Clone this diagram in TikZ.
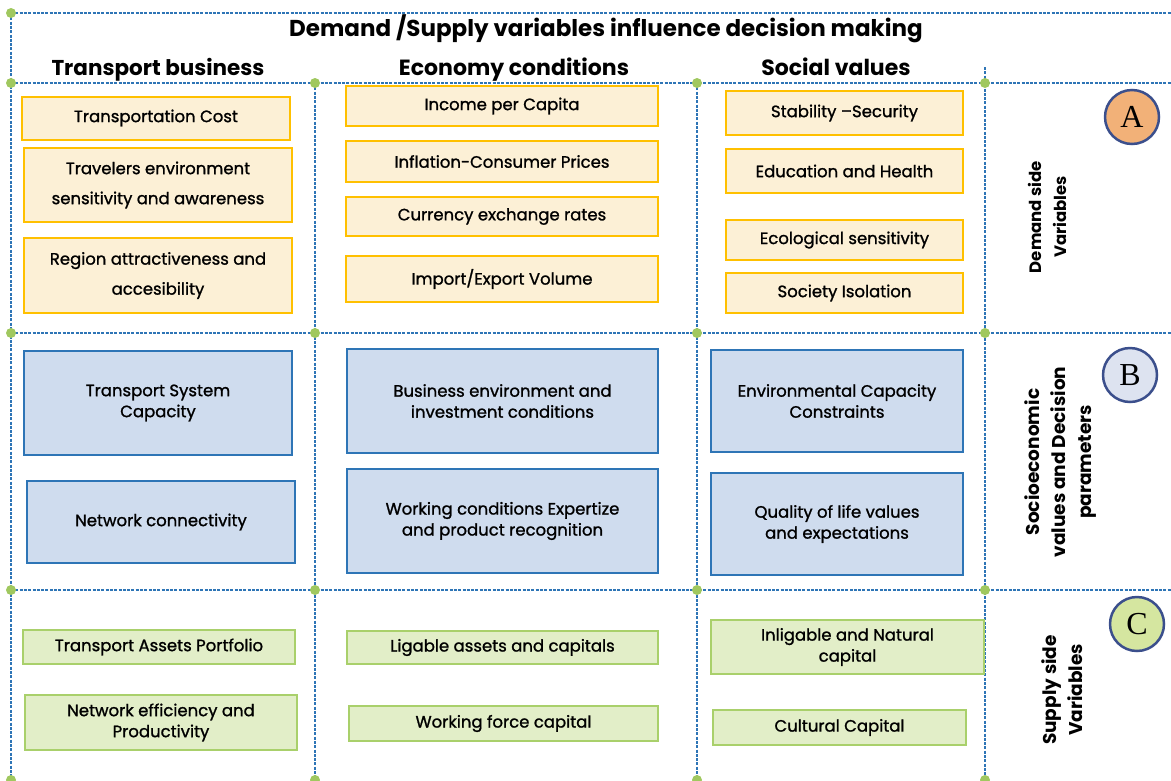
\documentclass[tikz,border=0pt]{standalone}
\usepackage{fontspec}
\setmainfont{Poppins}
\newfontfamily\boxfont{Poppins}[FakeBold=1.2]
\newfontfamily\badgefont{Liberation Serif}
\usetikzlibrary{positioning}
\definecolor{gridblue}{RGB}{46,117,182}
\definecolor{dotgreen}{RGB}{160,200,95}
\definecolor{yfill}{RGB}{252,240,214}
\definecolor{yline}{RGB}{255,192,0}
\definecolor{bfill}{RGB}{207,220,238}
\definecolor{bline}{RGB}{46,117,182}
\definecolor{gfill}{RGB}{226,238,200}
\definecolor{gline}{RGB}{169,208,107}
\definecolor{ringblue}{RGB}{59,79,140}
\definecolor{afill}{RGB}{242,177,120}
\definecolor{bcfill}{RGB}{221,227,240}
\definecolor{ccfill}{RGB}{213,230,160}
\tikzset{
cell/.style={
  draw,
  line width=2pt,
  inner sep=2pt,
  align=center,
  text=black
},
ybox/.style={cell, draw=yline, fill=yfill, font=\boxfont\fontsize{16.5}{30}\selectfont},
bbox/.style={cell, draw=bline, fill=bfill, font=\boxfont\fontsize{16.5}{21}\selectfont},
gbox/.style={cell, draw=gline, fill=gfill, line width=2.5pt, font=\boxfont\fontsize{16.5}{21}\selectfont},
gridline/.style={draw=gridblue, line width=2.5pt, dash pattern=on 3pt off 1.3pt},
gdot/.style={fill=dotgreen},
colhead/.style={anchor=base, font=\bfseries\fontsize{22}{24}\selectfont},
sidelabel/.style={rotate=90, align=center, font=\bfseries\fontsize{18.5}{26}\selectfont},
badge/.style={circle, draw=ringblue, line width=2.5pt, minimum size=54, inner sep=0pt,
  font=\badgefont\fontsize{32}{32}\selectfont}
}
\begin{document}
\begin{tikzpicture}[x=1pt, y=-1pt]
  \useasboundingbox (0,0) rectangle (1171,780);

  % grid corners
  \coordinate (tl) at (11,13);
  \coordinate (tr) at (1171,13);
  \coordinate (bl) at (11,780);
  \coordinate (hl1) at (11,83);
  \coordinate (hr1) at (1171,83);
  \coordinate (hl2) at (11,333);
  \coordinate (hr2) at (1171,333);
  \coordinate (hl3) at (11,590);
  \coordinate (hr3) at (1171,590);
  \coordinate (v1t) at (315,83);
  \coordinate (v1b) at (315,780);
  \coordinate (v2t) at (697,83);
  \coordinate (v2b) at (697,780);
  \coordinate (v3t) at (985,67);
  \coordinate (v3b) at (985,780);

  \draw[gridline] (tl) -- (tr);
  \draw[gridline] (tl) -- (bl);
  \draw[gridline] (hl1) -- (hr1);
  \draw[gridline] (hl2) -- (hr2);
  \draw[gridline] (hl3) -- (hr3);
  \draw[gridline] (v1t) -- (v1b);
  \draw[gridline] (v2t) -- (v2b);
  \draw[gridline] (v3t) -- (v3b);

  \fill[gdot] (tl) circle (5);
  \fill[gdot] (hl1) circle (5);
  \fill[gdot] (v1t) circle (5);
  \fill[gdot] (v2t) circle (5);
  \fill[gdot] (v3t |- hl1) circle (5);
  \fill[gdot] (hl2) circle (5);
  \fill[gdot] (v1t |- hl2) circle (5);
  \fill[gdot] (v2t |- hl2) circle (5);
  \fill[gdot] (v3t |- hl2) circle (5);
  \fill[gdot] (hl3) circle (5);
  \fill[gdot] (v1t |- hl3) circle (5);
  \fill[gdot] (v2t |- hl3) circle (5);
  \fill[gdot] (v3t |- hl3) circle (5);
  \fill[gdot] (bl) circle (5);
  \fill[gdot] (v1b) circle (5);
  \fill[gdot] (v2b) circle (5);
  \fill[gdot] (v3b) circle (5);

  % headings
  \node[colhead, font=\bfseries\fontsize{23}{24}\selectfont] (title) at (606,36) {Demand /Supply variables influence decision making};
  \node[colhead, font=\bfseries\fontsize{21.5}{24}\selectfont] (htrans) at (158,75) {Transport business};
  \node[colhead] (hecon) at (514,75) {Economy conditions};
  \node[colhead] (hsoc) at (836,75) {Social values};

  % demand side
  \node[ybox, minimum width=268, minimum height=43] (tcost) at (156,118) {Transportation Cost};
  \node[ybox, minimum width=268, minimum height=74] (travel) at (158,185) {Travelers environment\\sensitivity and awareness};
  \node[ybox, minimum width=268, minimum height=75] (region) at (158,275.5) {Region attractiveness and\\accesibility};
  \node[ybox, minimum width=312, minimum height=40] (income) at (502,106) {Income per Capita};
  \node[ybox, minimum width=312, minimum height=41] (inflat) at (502,161.5) {Inflation-Consumer Prices};
  \node[ybox, minimum width=312, minimum height=39] (currency) at (502,216.5) {Currency exchange rates};
  \node[ybox, minimum width=312, minimum height=46] (import) at (502,279) {Import/Export Volume};
  \node[ybox, minimum width=237, minimum height=44] (stabil) at (844.5,113) {Stability –Security};
  \node[ybox, minimum width=237, minimum height=44] (educ) at (844.5,171) {Education and Health};
  \node[ybox, minimum width=237, minimum height=40] (ecolog) at (844.5,240) {Ecological sensitivity};
  \node[ybox, minimum width=237, minimum height=40] (isol) at (844.5,293) {Society Isolation};

  % decision parameters
  \node[bbox, minimum width=268, minimum height=104] (tsyscap) at (158,403) {Transport System\\Capacity};
  \node[bbox, minimum width=268, minimum height=82] (netconn) at (161,522) {Network connectivity};
  \node[bbox, minimum width=311, minimum height=104] (busenv) at (502.5,401) {Business environment and\\investment conditions};
  \node[bbox, minimum width=311, minimum height=104] (workcond) at (502.5,521) {Working conditions Expertize\\and product recognition};
  \node[bbox, minimum width=252, minimum height=102] (envcap) at (837,401) {Environmental Capacity\\Constraints};
  \node[bbox, minimum width=252, minimum height=102] (quality) at (837,524) {Quality of life values\\and expectations};

  % supply side
  \node[gbox, minimum width=272, minimum height=34] (assets) at (159,647) {Transport Assets Portfolio};
  \node[gbox, minimum width=272, minimum height=55] (neteff) at (161,722.5) {Network efficiency and\\Productivity};
  \node[gbox, minimum width=311, minimum height=33] (ligable) at (502.5,647.5) {Ligable assets and capitals};
  \node[gbox, minimum width=309, minimum height=35] (wforce) at (503.5,723.5) {Working force capital};
  \node[gbox, minimum width=273, minimum height=54] (inligable) at (847.5,647) {Inligable and Natural\\capital};
  \node[gbox, minimum width=253, minimum height=35] (cultural) at (839.5,727.5) {Cultural Capital};

  % row labels
  \node[sidelabel, font=\bfseries\fontsize{16.5}{25}\selectfont] (demlab) at (1047,217) {Demand side\\Variables};
  \node[sidelabel] (soclab) at (1061,462) {Socioeconomic\\values and Decision\\parameters};
  \node[sidelabel] (suplab) at (1062,690) {Supply side\\Variables};
  \node[badge, fill=afill] (badgeA) at (1132,117) {A};
  \node[badge, fill=bcfill] (badgeB) at (1130,375) {B};
  \node[badge, fill=ccfill] (badgeC) at (1137,624) {C};
\end{tikzpicture}
\end{document}
